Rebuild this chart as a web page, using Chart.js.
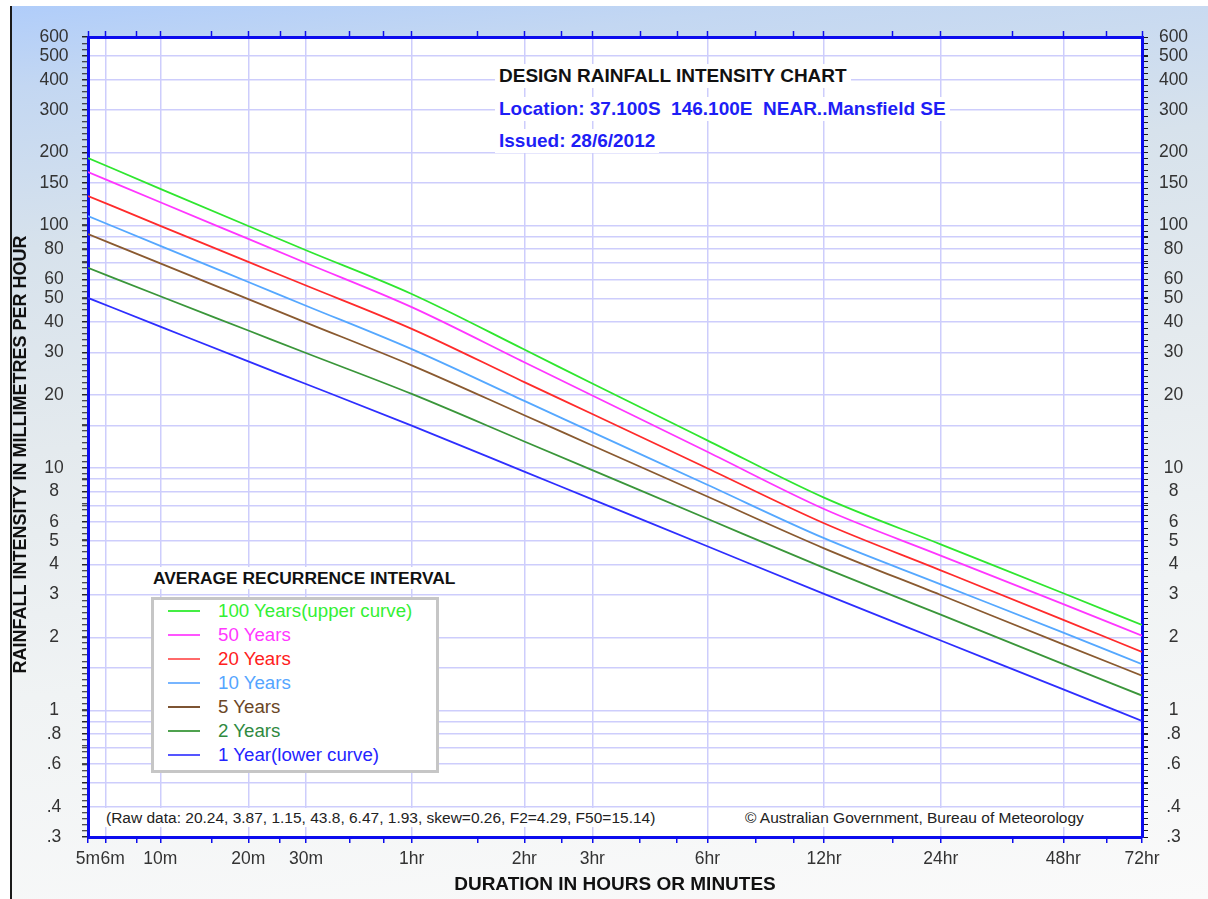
<!DOCTYPE html>
<html>
<head>
<meta charset="utf-8">
<script src="https://cdn.jsdelivr.net/npm/chart.js@4.4.1/dist/chart.umd.min.js"></script>
<style>
html,body{margin:0;padding:0;background:#fff;}
#wrap{position:relative;width:1208px;height:899px;overflow:hidden;font-family:"Liberation Sans",Arial,sans-serif;}
#panel{position:absolute;left:10px;top:6px;width:1198px;height:893px;border-left:2px solid #1a1a1a;box-sizing:border-box;
  background:linear-gradient(174deg,#b0cdfa 0%,#c3d7f2 8%,#d7e2ec 24%,#e4eaee 44%,#f0f3f4 68%,#fafafa 100%);}
#c{position:absolute;left:0;top:0;}
.lbl{position:absolute;white-space:pre;background:#fff;padding:0 4px;}
#legend{position:absolute;background:#fff;border:3px solid #c6c6c6;box-sizing:border-box;}
.lg-line{position:absolute;height:2px;}
.lg-text{position:absolute;white-space:pre;}
</style>
</head>
<body>
<div id="wrap">
  <div id="panel"></div>
  <canvas id="c" width="1208" height="899"></canvas>
</div>
<script>
// ---------------- DATA ----------------
const DURATION_MIN = [5, 10, 20, 30, 60, 120, 180, 360, 720, 1440, 2880, 4320];

const INTENSITY_100YR = [190.1, 141.8, 99.6, 79.1, 52.2, 30.8, 22.3, 13.0, 7.54, 4.84, 3.04, 2.25];
const INTENSITY_50YR  = [166.4, 124.8, 88.1, 70.1, 46.1, 27.3, 19.9, 11.66, 6.77, 4.35, 2.74, 2.03];
const INTENSITY_20YR  = [132.5, 99.8, 70.8, 56.6, 37.5, 22.6, 16.7, 9.97, 5.91, 3.78, 2.36, 1.74];
const INTENSITY_10YR  = [109.5, 82.5, 58.5, 46.7, 30.9, 18.9, 14.06, 8.52, 5.13, 3.31, 2.09, 1.55];
const INTENSITY_5YR   = [92.3, 69.8, 49.7, 39.8, 26.5, 16.5, 12.38, 7.62, 4.66, 2.99, 1.87, 1.39];
const INTENSITY_2YR   = [66.9, 51.1, 36.9, 29.8, 20.2, 12.86, 9.79, 6.17, 3.87, 2.48, 1.55, 1.15];
const INTENSITY_1YR   = [50.3, 38.3, 27.5, 22.2, 14.95, 9.66, 7.42, 4.75, 3.02, 1.94, 1.22, 0.903];

const SERIES_LABELS = ['100 Years(upper curve)', '50 Years', '20 Years', '10 Years', '5 Years', '2 Years', '1 Year(lower curve)'];
const SERIES_VALUES = [INTENSITY_100YR, INTENSITY_50YR, INTENSITY_20YR, INTENSITY_10YR, INTENSITY_5YR, INTENSITY_2YR, INTENSITY_1YR];

const X_TICK_MIN  = [5, 6, 8, 10, 15, 20, 25, 30, 40, 50, 60, 90, 120, 150, 180, 240, 300, 360, 480, 600, 720, 1080, 1440, 2160, 2880, 3600, 4320];
const X_LABEL_MIN = [5, 6, 10, 20, 30, 60, 120, 180, 360, 720, 1440, 2880, 4320];
const X_LABELS    = ['5m', '6m', '10m', '20m', '30m', '1hr', '2hr', '3hr', '6hr', '12hr', '24hr', '48hr', '72hr'];

const Y_GRID_VALUES  = [0.3, 0.4, 0.5, 0.6, 0.7, 0.8, 0.9, 1, 1.5, 2, 3, 4, 5, 6, 7, 8, 9, 10, 15, 20, 30, 40, 50, 60, 70, 80, 90, 100, 150, 200, 300, 400, 500, 600];
const Y_LABEL_VALUES = [0.3, 0.4, 0.6, 0.8, 1, 2, 3, 4, 5, 6, 8, 10, 20, 30, 40, 50, 60, 80, 100, 150, 200, 300, 400, 500, 600];
const Y_LABELS       = ['.3', '.4', '.6', '.8', '1', '2', '3', '4', '5', '6', '8', '10', '20', '30', '40', '50', '60', '80', '100', '150', '200', '300', '400', '500', '600'];

// ---------------- STYLE / LAYOUT ----------------
const FONT = "'Liberation Sans', Arial, sans-serif";
const SERIES_COLORS = ['#2fe62f', '#ff36ff', '#ff2b2b', '#55a8ff', '#8a5a30', '#3a963a', '#2e2eff'];
const LEGEND_LINE_COLORS = ['#44ee44', '#ff55ff', '#ff6a6a', '#77b5ff', '#7d5432', '#4fa24f', '#5555ff'];
const LEGEND_TEXT_COLORS = ['#33f033', '#ff38ff', '#ff2020', '#55a5ff', '#6b4626', '#2f8a3f', '#2424ff'];
const GRID_COLOR = '#cdcdfc';
const BORDER_COLOR = '#0c0cee';
// duration axis: log-interpolated between these (minutes -> fraction of axis length)
const X_AXIS_ANCHORS = [[5, 0], [6, 0.01641], [10, 0.06860], [20, 0.15209], [30, 0.20683], [60, 0.30712],
  [120, 0.41395], [180, 0.47846], [360, 0.58758], [720, 0.69829], [1440, 0.80901], [2880, 0.92533], [4320, 1]];

function durationFraction(m) {
  const A = X_AXIS_ANCHORS;
  let i = 0;
  while (i < A.length - 2 && m > A[i + 1][0]) i++;
  const t = (Math.log(m) - Math.log(A[i][0])) / (Math.log(A[i + 1][0]) - Math.log(A[i][0]));
  return A[i][1] + t * (A[i + 1][1] - A[i][1]);
}
function fractionDuration(f) {
  const A = X_AXIS_ANCHORS;
  let i = 0;
  while (i < A.length - 2 && f > A[i + 1][1]) i++;
  const t = (f - A[i][1]) / (A[i + 1][1] - A[i][1]);
  return Math.exp(Math.log(A[i][0]) + t * (Math.log(A[i + 1][0]) - Math.log(A[i][0])));
}

class DurationScale extends Chart.Scale {
  determineDataLimits() { this.min = this.options.min; this.max = this.options.max; }
  buildTicks() {
    return X_TICK_MIN.map(v => {
      const k = X_LABEL_MIN.indexOf(v);
      return { value: v, lbl: k >= 0 ? X_LABELS[k] : '', isGrid: k > 0 && k < X_LABEL_MIN.length - 1 };
    });
  }
  getLabelForValue(v) { return String(v); }
  getPixelForValue(v) { return this.getPixelForDecimal(durationFraction(v)); }
  getValueForPixel(p) { return fractionDuration(this.getDecimalForPixel(p)); }
}
DurationScale.id = 'duration';
DurationScale.defaults = { ticks: { autoSkip: false } };
Chart.register(DurationScale);

function buildYTicks(scale) {
  const lo = Math.log10(0.3), hi = Math.log10(600);
  const vals = [];
  for (let k = 0; ; k++) {
    const l = lo + k / 40;
    if (l > hi + 1e-9) break;
    vals.push({ value: Math.pow(10, l), lbl: '', isGrid: false });
  }
  Y_GRID_VALUES.forEach(v => {
    const li = Y_LABEL_VALUES.indexOf(v);
    vals.push({ value: v, lbl: li >= 0 ? Y_LABELS[li] : '', isGrid: true });
  });
  vals.sort((a, b) => a.value - b.value);
  scale.ticks = vals;
}

const plotAreaBackground = {
  id: 'plotAreaBackground',
  beforeDraw(chart) {
    const { ctx, chartArea: a } = chart;
    ctx.save();
    ctx.fillStyle = '#ffffff';
    ctx.fillRect(a.left, a.top, a.right - a.left, a.bottom - a.top);
    ctx.restore();
  }
};

const tickFont = { family: FONT, size: 17.5 };
const gridFn = (c) => (c.tick && c.tick.isGrid) ? GRID_COLOR : 'rgba(0,0,0,0)';

new Chart(document.getElementById('c'), {
  type: 'line',
  data: {
    datasets: SERIES_VALUES.map((vals, i) => ({
      label: SERIES_LABELS[i],
      data: DURATION_MIN.map((d, j) => ({ x: d, y: vals[j] })),
      borderColor: SERIES_COLORS[i],
      borderWidth: 1.8,
      pointRadius: 0,
      fill: false,
      cubicInterpolationMode: 'monotone'
    }))
  },
  options: {
    responsive: false,
    animation: false,
    events: [],
    layout: { padding: 0 },
    plugins: { legend: { display: false }, tooltip: { enabled: false } },
    scales: {
      x: {
        type: 'duration', axis: 'x', position: 'bottom', min: 5, max: 4320,
        afterFit: s => { s.height = 62; },
        ticks: { autoSkip: false, maxRotation: 0, font: tickFont, color: '#333', padding: 5.5,
          callback: (v, i, t) => t[i].lbl === '6m' ? '   6m' : (t[i].lbl || '') },
        grid: { color: gridFn, lineWidth: 1.5, tickColor: BORDER_COLOR, tickWidth: 1.5, tickLength: 6 },
        border: { display: true, color: BORDER_COLOR, width: 3 },
        title: { display: true, text: 'DURATION IN HOURS OR MINUTES', color: '#111',
          font: { family: FONT, size: 19, weight: 'bold' }, padding: { top: 0, bottom: 3 } }
      },
      xTop: {
        type: 'duration', axis: 'x', position: 'top', min: 5, max: 4320,
        afterFit: s => { s.height = 37; },
        ticks: { display: false },
        grid: { drawOnChartArea: false, tickColor: BORDER_COLOR, tickWidth: 1.5, tickLength: 6 },
        border: { display: true, color: BORDER_COLOR, width: 3 }
      },
      y: {
        type: 'logarithmic', axis: 'y', position: 'left', min: 0.3, max: 600, bounds: 'data',
        afterBuildTicks: buildYTicks,
        afterFit: s => { s.width = 88; },
        ticks: { autoSkip: false, font: tickFont, color: '#333', crossAlign: 'center', padding: 13.4,
          callback: (v, i, t) => t[i].lbl || '' },
        grid: { color: gridFn, lineWidth: 1.5, tickColor: '#1a1a1a', tickWidth: 1, tickLength: 6 },
        border: { display: true, color: BORDER_COLOR, width: 3 },
        title: { display: true, text: 'RAINFALL INTENSITY IN MILLIMETRES PER HOUR       ', color: '#111',
          font: { family: FONT, size: 18, weight: 'bold' }, padding: { top: 10, bottom: 0 } }
      },
      yRight: {
        type: 'logarithmic', axis: 'y', position: 'right', min: 0.3, max: 600, bounds: 'data',
        afterBuildTicks: buildYTicks,
        afterFit: s => { s.width = 66; },
        ticks: { autoSkip: false, font: tickFont, color: '#333', crossAlign: 'center', padding: 10.9,
          callback: (v, i, t) => t[i].lbl || '' },
        grid: { drawOnChartArea: false, tickColor: '#1a1a1a', tickWidth: 1, tickLength: 6 },
        border: { display: true, color: BORDER_COLOR, width: 3 }
      }
    }
  },
  plugins: [plotAreaBackground]
});

// ---------------- TEXT OVERLAYS ----------------
const wrap = document.getElementById('wrap');
const TEXT_ITEMS = [
  { text: 'DESIGN RAINFALL INTENSITY CHART', x: 499, cy: 76, size: 19, weight: 'bold', color: '#111' },
  { text: 'Location: 37.100S  146.100E  NEAR..Mansfield SE', x: 499, cy: 109, size: 19, weight: 'bold', color: '#1e1ef6' },
  { text: 'Issued: 28/6/2012', x: 499, cy: 141, size: 19, weight: 'bold', color: '#1e1ef6' },
  { text: 'AVERAGE RECURRENCE INTERVAL', x: 153, cy: 578, size: 17.4, weight: 'bold', color: '#111' },
  { text: '(Raw data: 20.24, 3.87, 1.15, 43.8, 6.47, 1.93, skew=0.26, F2=4.29, F50=15.14)', x: 106, cy: 817, size: 15.5, weight: 'normal', color: '#222' },
  { text: '\u00a9 Australian Government, Bureau of Meteorology', x: 745, cy: 817, size: 15.5, weight: 'normal', color: '#222' }
];
TEXT_ITEMS.forEach(t => {
  const d = document.createElement('div');
  d.className = 'lbl';
  const lh = Math.round(t.size * 1.25);
  d.style.cssText = `left:${t.x - 4}px;top:${t.cy - lh / 2}px;line-height:${lh}px;height:${lh}px;font-size:${t.size}px;font-weight:${t.weight};color:${t.color};`;
  d.textContent = t.text;
  wrap.appendChild(d);
});

// legend
const LEGEND_BOX = { left: 151, top: 597, width: 288, height: 176, firstRow: 14, rowStep: 24, lineX: 14, lineW: 32, textX: 64, fontSize: 18.7 };
const lg = document.createElement('div');
lg.id = 'legend';
lg.style.cssText = `left:${LEGEND_BOX.left}px;top:${LEGEND_BOX.top}px;width:${LEGEND_BOX.width}px;height:${LEGEND_BOX.height}px;`;
wrap.appendChild(lg);
SERIES_LABELS.forEach((lab, i) => {
  const cy = LEGEND_BOX.firstRow + i * LEGEND_BOX.rowStep - 3; // minus border
  const ln = document.createElement('div');
  ln.className = 'lg-line';
  ln.style.cssText = `left:${LEGEND_BOX.lineX}px;top:${cy - 1}px;width:${LEGEND_BOX.lineW}px;background:${LEGEND_LINE_COLORS[i]};`;
  lg.appendChild(ln);
  const tx = document.createElement('div');
  tx.className = 'lg-text';
  const lh = 22;
  tx.style.cssText = `left:${LEGEND_BOX.textX}px;top:${cy - lh / 2}px;line-height:${lh}px;font-size:${LEGEND_BOX.fontSize}px;color:${LEGEND_TEXT_COLORS[i]};`;
  tx.textContent = lab;
  lg.appendChild(tx);
});
</script>
</body>
</html>
